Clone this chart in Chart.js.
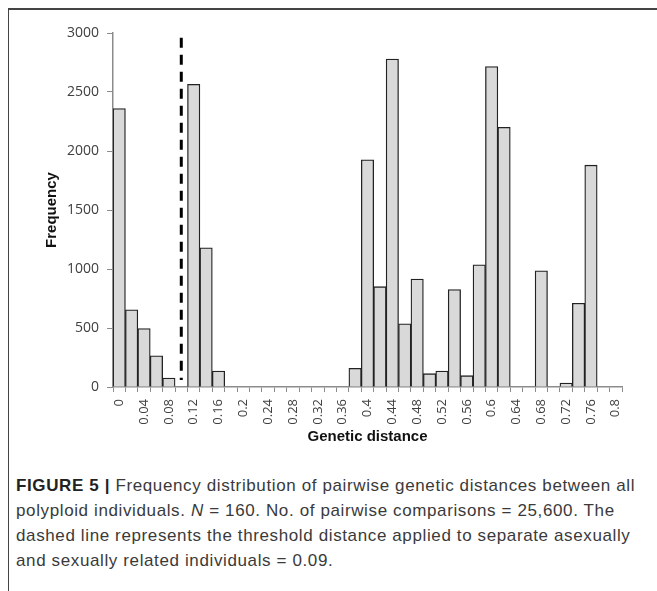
<!DOCTYPE html>
<html>
<head>
<meta charset="utf-8">
<script src="https://cdn.jsdelivr.net/npm/chart.js@4.4.0/dist/chart.umd.min.js"></script>
<style>
  body { margin: 0; background: #fff; }
  #wrap { position: relative; width: 657px; height: 591px; overflow: hidden; }
  #frame { position: absolute; left: 8px; top: 8px; right: -2px; bottom: -2px;
           border-top: 2px solid #444; border-left: 1px solid #444; }
  #chartBox { position: absolute; left: 0; top: 0; width: 657px; height: 455px; }
  #caption { position: absolute; left: 16px; top: 473px; width: 645px; white-space: nowrap;
             font-family: "Liberation Sans", Arial, sans-serif; font-size: 17px;
             letter-spacing: 0.62px; line-height: 25px; color: #3a3a3a; }
  #caption b { color: #222; }
</style>
</head>
<body>
<div id="wrap">
  <div id="frame"></div>
  <div id="chartBox"><canvas id="histChart" width="657" height="455"></canvas></div>
  <div id="caption"><b>FIGURE 5 |</b> Frequency distribution of pairwise genetic distances between all<br>polyploid individuals. <i>N</i> = 160. No. of pairwise comparisons = 25,600. The<br>dashed line represents the threshold distance applied to separate asexually<br>and sexually related individuals = 0.09.</div>
</div>
<script>
// bins of genetic distance (step 0.02)
const distanceLabels = ["0","0.02","0.04","0.06","0.08","0.1","0.12","0.14","0.16","0.18",
  "0.2","0.22","0.24","0.26","0.28","0.3","0.32","0.34","0.36","0.38",
  "0.4","0.42","0.44","0.46","0.48","0.5","0.52","0.54","0.56","0.58",
  "0.6","0.62","0.64","0.66","0.68","0.7","0.72","0.74","0.76","0.78","0.8"];

const frequencies = [2360, 655, 495, 265, 75, 0, 2565, 1180, 135, 0,
  0, 0, 0, 0, 0, 0, 0, 0, 0, 158,
  1925, 850, 2780, 535, 915, 113, 135, 825, 96, 1035,
  2715, 2200, 0, 0, 985, 0, 34, 710, 1880, 0, 0];

// dashed threshold line, drawn at the 0.1 bin
const thresholdBin = ["0.1", "0.1"];
const thresholdY = [2960, 60];

const tickColor = "#404040";
const axisColor = "#8c8c8c";

const ctx = document.getElementById("histChart").getContext("2d");

new Chart(ctx, {
    type: "bar",
    data: {
        labels: distanceLabels,
        datasets: [{
            label: "Frequency",
            data: frequencies,
            backgroundColor: "#d9d9d9",
            borderColor: "#222",
            borderWidth: 1.3,
            barPercentage: 1,
            categoryPercentage: 1,
            grouped: false,
            order: 2
        }, {
            type: "line",
            label: "threshold",
            data: thresholdBin.map((b, i) => ({ x: b, y: thresholdY[i] })),
            borderColor: "#000",
            borderWidth: 3,
            borderDash: [10, 7],
            pointRadius: 0,
            order: 1
        }]
    },
    options: {
        responsive: false,
        animation: false,
        layout: { padding: { top: 33, right: 35, left: 0, bottom: 0 } },
        plugins: { legend: { display: false }, tooltip: { enabled: false } },
        scales: {
            x: {
                type: "category",
                offset: true,
                grid: { display: true, drawOnChartArea: false, offset: true, tickLength: 5, color: axisColor },
                border: { color: axisColor, width: 1.5 },
                ticks: {
                    autoSkip: false,
                    minRotation: 90,
                    maxRotation: 90,
                    padding: 7,
                    color: tickColor,
                    font: { family: "Open Sans", size: 13 },
                    callback: function (value, index) {
                        return index % 2 === 0 ? distanceLabels[index] : "";
                    }
                },
                title: {
                    display: true,
                    text: "Genetic distance",
                    color: "#111",
                    font: { family: "Liberation Sans", size: 15, weight: "bold" },
                    padding: { top: 0, bottom: 9 }
                },
                afterFit: function (scale) { scale.height = 455 - 387; }
            },
            y: {
                min: 0,
                max: 3000,
                grid: { display: true, drawOnChartArea: false, tickLength: 6, color: axisColor },
                border: { color: axisColor, width: 1.5 },
                ticks: {
                    stepSize: 500,
                    padding: 8,
                    color: tickColor,
                    font: { family: "Open Sans", size: 14 },
                    callback: function (value) { return String(value); }
                },
                title: {
                    display: true,
                    text: "Frequency",
                    color: "#111",
                    font: { family: "Liberation Sans", size: 15, weight: "bold" },
                    padding: { top: 43, bottom: 0 }
                },
                afterFit: function (scale) { scale.width = 113; }
            }
        }
    }
});
</script>
</body>
</html>
